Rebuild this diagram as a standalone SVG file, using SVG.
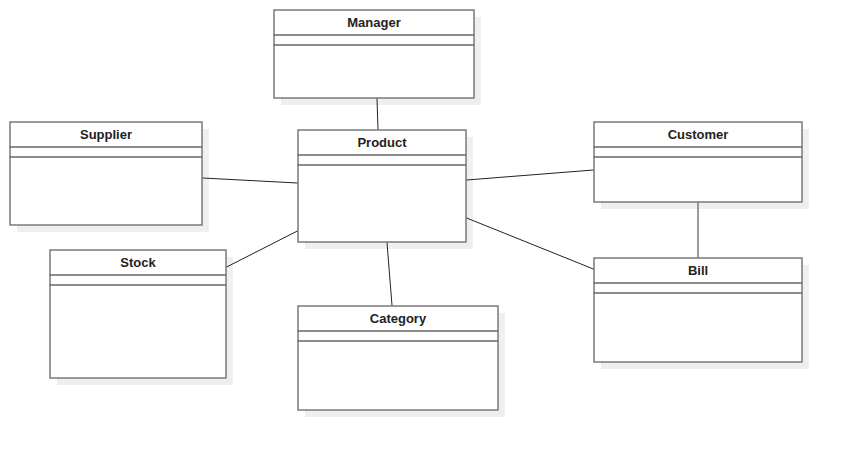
<svg xmlns="http://www.w3.org/2000/svg" width="842" height="450" viewBox="0 0 842 450">
<defs>
<style>
.sh{fill:#efefef;stroke:none}
.bx{fill:#fff;stroke:#666;stroke-width:1.3}
.ln{stroke:#666;stroke-width:1.3}
.t{font-family:"Liberation Sans",Arial,sans-serif;font-size:13px;font-weight:bold;fill:#222;text-anchor:middle}
.c{stroke:#222;stroke-width:1;fill:none}
</style>
</defs>
<rect width="842" height="450" fill="#fff"/>
<g id="manager">
<rect class="sh" x="281" y="17" width="200" height="88"/>
<rect class="bx" x="274" y="10" width="200" height="88"/>
<line class="ln" x1="274" y1="35" x2="474" y2="35"/>
<line class="ln" x1="274" y1="45" x2="474" y2="45"/>
<text class="t" x="374" y="27">Manager</text>
</g>
<g id="product">
<rect class="sh" x="305" y="137" width="168" height="112"/>
<rect class="bx" x="298" y="130" width="168" height="112"/>
<line class="ln" x1="298" y1="155" x2="466" y2="155"/>
<line class="ln" x1="298" y1="165" x2="466" y2="165"/>
<text class="t" x="382" y="147">Product</text>
</g>
<g id="supplier">
<rect class="sh" x="17" y="129" width="192" height="103"/>
<rect class="bx" x="10" y="122" width="192" height="103"/>
<line class="ln" x1="10" y1="147" x2="202" y2="147"/>
<line class="ln" x1="10" y1="157" x2="202" y2="157"/>
<text class="t" x="106" y="139">Supplier</text>
</g>
<g id="customer">
<rect class="sh" x="601" y="129" width="208" height="80"/>
<rect class="bx" x="594" y="122" width="208" height="80"/>
<line class="ln" x1="594" y1="147" x2="802" y2="147"/>
<line class="ln" x1="594" y1="157" x2="802" y2="157"/>
<text class="t" x="698" y="139">Customer</text>
</g>
<g id="stock">
<rect class="sh" x="57" y="257" width="176" height="128"/>
<rect class="bx" x="50" y="250" width="176" height="128"/>
<line class="ln" x1="50" y1="275" x2="226" y2="275"/>
<line class="ln" x1="50" y1="285" x2="226" y2="285"/>
<text class="t" x="138" y="267">Stock</text>
</g>
<g id="category">
<rect class="sh" x="305" y="313" width="200" height="104"/>
<rect class="bx" x="298" y="306" width="200" height="104"/>
<line class="ln" x1="298" y1="331" x2="498" y2="331"/>
<line class="ln" x1="298" y1="341" x2="498" y2="341"/>
<text class="t" x="398" y="323">Category</text>
</g>
<g id="bill">
<rect class="sh" x="601" y="265" width="208" height="104"/>
<rect class="bx" x="594" y="258" width="208" height="104"/>
<line class="ln" x1="594" y1="283" x2="802" y2="283"/>
<line class="ln" x1="594" y1="293" x2="802" y2="293"/>
<text class="t" x="698" y="275">Bill</text>
</g>
<g id="connectors">
<line class="c" x1="377" y1="98.6" x2="378" y2="129.4"/>
<line class="c" x1="202.6" y1="178" x2="297.4" y2="183"/>
<line class="c" x1="226.6" y1="267" x2="297.4" y2="231"/>
<line class="c" x1="387" y1="242.6" x2="392" y2="305.4"/>
<line class="c" x1="466.6" y1="180" x2="593.4" y2="170"/>
<line class="c" x1="466.6" y1="218" x2="593.4" y2="269"/>
<line class="ln" x1="698" y1="202.6" x2="698" y2="257.4"/>
</g>
</svg>
